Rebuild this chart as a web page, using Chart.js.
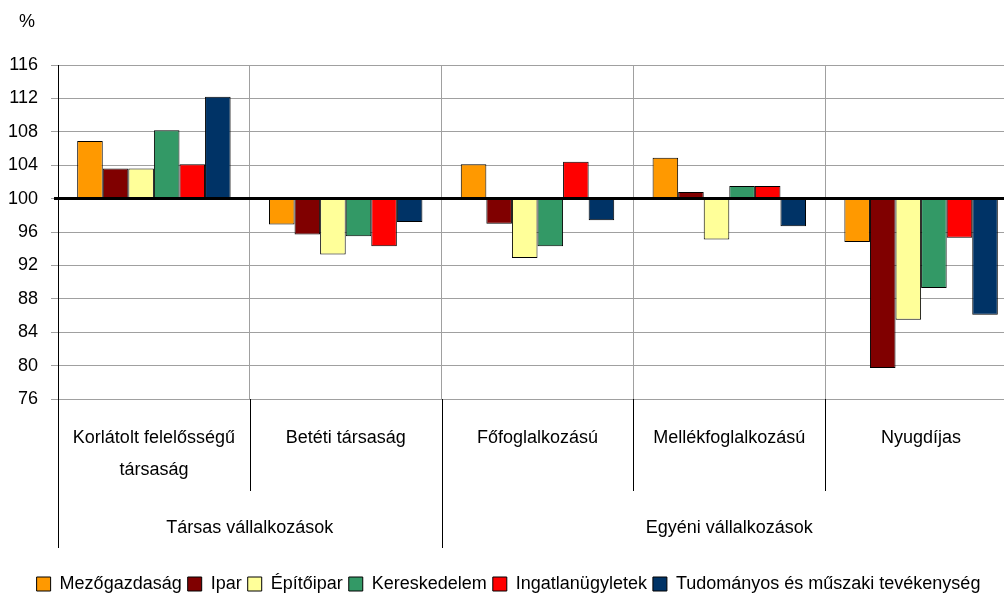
<!DOCTYPE html>
<html>
<head>
<meta charset="utf-8">
<script src="https://cdn.jsdelivr.net/npm/chart.js@4/dist/chart.umd.min.js"></script>
<style>
  html, body { margin: 0; padding: 0; background: #fff; overflow: hidden; }
  #wrap { width: 1017px; height: 597px; position: relative; }
</style>
</head>
<body>
<div id="wrap"><canvas id="grafikon"></canvas></div>
<script>
// kategóriák
const kategoriak = [['Korlátolt felelősségű', 'társaság'], 'Betéti társaság', 'Főfoglalkozású', 'Mellékfoglalkozású', 'Nyugdíjas'];
const csoportok = ['Társas vállalkozások', 'Egyéni vállalkozások'];
const csoportMeret = [2, 3];

// ágazatok (index, 100 = előző év)
const mezogazdasag = [106.9, 96.9, 104.1, 104.9, 94.8];
const ipar = [103.6, 95.7, 97.0, 100.8, 79.7];
const epitoipar = [103.6, 93.3, 92.9, 95.1, 85.5];
const kereskedelem = [108.2, 95.5, 94.3, 101.5, 89.3];
const ingatlan = [104.1, 94.3, 104.4, 101.5, 95.3];
const tudomanyos = [112.2, 97.2, 97.4, 96.7, 86.1];

const yTicks = [76, 80, 84, 88, 92, 96, 100, 104, 108, 112, 116];
const betu = "'Liberation Sans', Arial, sans-serif";
const meret = 18;

function sorozat(nev, ertekek, szin) {
    return {
        label: nev,
        data: ertekek.map(v => [100, v]),
        backgroundColor: szin,
        borderColor: '#000',
        borderWidth: 1,
        borderSkipped: false,
        categoryPercentage: 0.8,
        barPercentage: 1.0
    };
}

// saját rajzolás: többszintű x tengely, 100-as vonal, % jel
const tengelyRajz = {
    id: 'tengelyRajz',
    afterDatasetsDraw(chart) {
        const ctx = chart.ctx, x = chart.scales.x, y = chart.scales.y;
        const y100 = y.getPixelForValue(100);
        ctx.save();
        ctx.strokeStyle = '#000';
        ctx.lineWidth = 3;
        ctx.beginPath();
        ctx.moveTo(x.left - 4, y100);
        ctx.lineTo(x.right, y100);
        ctx.stroke();
        ctx.restore();
    },
    afterDraw(chart) {
        const ctx = chart.ctx, x = chart.scales.x, y = chart.scales.y;
        const fel = (x.getPixelForValue(1) - x.getPixelForValue(0)) / 2;
        const hatar = i => x.getPixelForValue(i) - fel;
        const alja = y.bottom;
        ctx.save();
        ctx.fillStyle = '#000';
        ctx.strokeStyle = '#000';
        ctx.lineWidth = 1;
        ctx.font = meret + 'px ' + betu;
        ctx.textAlign = 'center';
        ctx.textBaseline = 'middle';

        // % felirat
        ctx.fillText('%', x.left - 31, 22);

        // kategória feliratok
        kategoriak.forEach((k, i) => {
            const sorok = Array.isArray(k) ? k : [k];
            sorok.forEach((s, j) => ctx.fillText(s, x.getPixelForValue(i), alja + 39 + j * 32));
        });
        // elválasztók
        for (let i = 0; i <= kategoriak.length; i++) {
            ctx.beginPath();
            ctx.moveTo(Math.round(hatar(i)) + 0.5, alja);
            ctx.lineTo(Math.round(hatar(i)) + 0.5, alja + 92);
            ctx.stroke();
        }
        // csoportok
        let kezd = 0;
        csoportok.forEach((c, g) => {
            const veg = kezd + csoportMeret[g];
            const bal = hatar(kezd), jobb = hatar(veg);
            ctx.fillText(c, (bal + jobb) / 2, alja + 129);
            [bal, jobb].forEach(px => {
                ctx.beginPath();
                ctx.moveTo(Math.round(px) + 0.5, alja);
                ctx.lineTo(Math.round(px) + 0.5, alja + 149);
                ctx.stroke();
            });
            kezd = veg;
        });
        ctx.restore();
    }
};

new Chart(document.getElementById('grafikon').getContext('2d'), {
    type: 'bar',
    data: {
        labels: kategoriak.map(k => Array.isArray(k) ? k.join(' ') : k),
        datasets: [
            sorozat('Mezőgazdaság', mezogazdasag, '#FF9900'),
            sorozat('Ipar', ipar, '#800000'),
            sorozat('Építőipar', epitoipar, '#FFFF99'),
            sorozat('Kereskedelem', kereskedelem, '#339966'),
            sorozat('Ingatlanügyletek', ingatlan, '#FF0000'),
            sorozat('Tudományos és műszaki tevékenység', tudomanyos, '#003366')
        ]
    },
    options: {
        responsive: true,
        maintainAspectRatio: false,
        animation: false,
        layout: { padding: { top: 65, left: 0, right: 0, bottom: -6 } },
        plugins: {
            tooltip: { enabled: false },
            legend: {
                position: 'bottom',
                labels: {
                    font: { family: betu, size: meret, lineHeight: 1 },
                    color: '#000',
                    boxWidth: 14,
                    boxHeight: 14,
                    padding: 6,
                    generateLabels(chart) {
                        return chart.data.datasets.map((d, i) => ({
                            text: d.label,
                            fillStyle: d.backgroundColor,
                            strokeStyle: '#000',
                            lineWidth: 1,
                            datasetIndex: i
                        }));
                    }
                }
            }
        },
        scales: {
            x: {
                grid: { color: '#a0a0a0', offset: true, drawTicks: false },
                border: { display: false },
                ticks: { display: false },
                afterFit(scale) { scale.height = 170; }
            },
            y: {
                min: 76,
                max: 116,
                afterBuildTicks(scale) { scale.ticks = yTicks.map(v => ({ value: v })); },
                afterFit(scale) { scale.width = 58; },
                grid: { color: '#a0a0a0', tickLength: 7 },
                border: { display: true, color: '#000', width: 1 },
                ticks: {
                    color: '#000',
                    padding: 13,
                    font: { family: betu, size: meret }
                }
            }
        }
    },
    plugins: [tengelyRajz]
});
</script>
</body>
</html>
